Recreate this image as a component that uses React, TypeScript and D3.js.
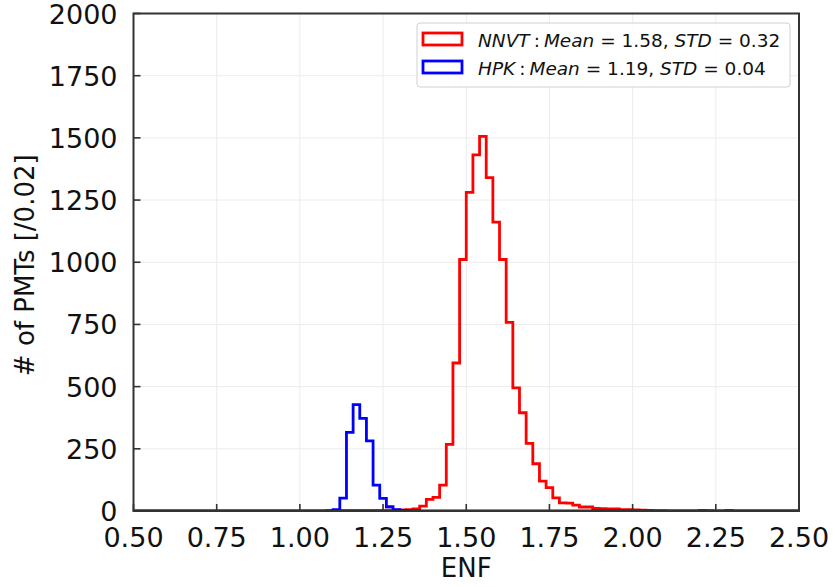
import React from "react";
import * as d3 from "d3";

// ---- Data (counts per 0.02 bin, keyed by bin lower edge) ----
const nnvtBinStarts = [1.10, 1.12, 1.14, 1.16, 1.18, 1.20, 1.22, 1.24, 1.26, 1.28, 1.30, 1.32, 1.34, 1.36, 1.38, 1.40, 1.42, 1.44, 1.46, 1.48, 1.50, 1.52, 1.54, 1.56, 1.58, 1.60, 1.62, 1.64, 1.66, 1.68, 1.70, 1.72, 1.74, 1.76, 1.78, 1.80, 1.82, 1.84, 1.86, 1.88, 1.90, 1.92, 1.94, 1.96, 1.98, 2.00, 2.02, 2.04, 2.06, 2.08, 2.20, 2.22, 2.28];
const nnvtCounts = [1, 2, 2, 2, 2, 2, 2, 2, 3, 3, 4, 5, 8, 20, 47, 55, 104, 268, 595, 1011, 1281, 1432, 1506, 1340, 1161, 1011, 758, 495, 395, 272, 190, 120, 94, 53, 33, 32, 24, 16, 16, 10, 9, 8, 8, 5, 5, 4, 3, 2, 1, 1, 2, 1, 2];

const hpkBinStarts = [1.08, 1.10, 1.12, 1.14, 1.16, 1.18, 1.20, 1.22, 1.24, 1.26, 1.28, 1.30, 1.32, 1.34];
const hpkCounts = [1, 5, 52, 316, 428, 372, 282, 104, 51, 17, 5, 2, 1, 1];

const xTicks = [0.5, 0.75, 1.0, 1.25, 1.5, 1.75, 2.0, 2.25, 2.5];
const yTicks = [0, 250, 500, 750, 1000, 1250, 1500, 1750, 2000];
const xDomain = [0.5, 2.5];
const yDomain = [0, 2000];
const binWidth = 0.02;

const W = 835;
const H = 587;
const M = { left: 133.5, right: 799, top: 13.5, bottom: 511 };

const FONT = "'DejaVu Sans', sans-serif";

function histPath(
  starts: number[],
  counts: number[],
  x: d3.ScaleLinear<number, number>,
  y: d3.ScaleLinear<number, number>
) {
  const nBins = Math.round((xDomain[1] - xDomain[0]) / binWidth);
  const vals = new Array(nBins).fill(0);
  starts.forEach((s, i) => {
    const idx = Math.round((s - xDomain[0]) / binWidth);
    if (idx >= 0 && idx < nBins) vals[idx] = counts[i];
  });
  const pts: [number, number][] = [[x(xDomain[0]), y(0)]];
  vals.forEach((v, i) => {
    const e0 = xDomain[0] + i * binWidth;
    const e1 = e0 + binWidth;
    pts.push([x(e0), y(v)]);
    pts.push([x(e1), y(v)]);
  });
  pts.push([x(xDomain[1]), y(0)]);
  return d3.line()(pts) || "";
}

export default function App() {
  const x = d3.scaleLinear().domain(xDomain).range([M.left, M.right]);
  const y = d3.scaleLinear().domain(yDomain).range([M.bottom, M.top]);

  const nnvtPath = histPath(nnvtBinStarts, nnvtCounts, x, y);
  const hpkPath = histPath(hpkBinStarts, hpkCounts, x, y);

  const fmtX = d3.format(".2f");

  return (
    <svg
      width={W}
      height={H}
      style={{ position: "absolute", left: 0, top: 0, background: "#fff" }}
      fontFamily={FONT}
    >
      <defs>
        <clipPath id="plotclip">
          <rect x={M.left} y={M.top - 2} width={M.right - M.left} height={M.bottom - M.top + 2} />
        </clipPath>
      </defs>
      <rect x={0} y={0} width={W} height={H} fill="#fff" />

      {/* grid */}
      {xTicks.map((t) => (
        <line key={"gx" + t} x1={x(t)} x2={x(t)} y1={M.top} y2={M.bottom} stroke="#ececec" strokeWidth={1} />
      ))}
      {yTicks.map((t) => (
        <line key={"gy" + t} x1={M.left} x2={M.right} y1={y(t)} y2={y(t)} stroke="#ececec" strokeWidth={1} />
      ))}

      {/* histograms */}
      <g clipPath="url(#plotclip)" fill="none" strokeWidth={2.8} strokeLinejoin="miter">
        <path d={nnvtPath} stroke="#ff0000" />
        <path d={hpkPath} stroke="#0000ff" />
      </g>

      {/* ticks (inward) */}
      {xTicks.map((t) => (
        <line key={"tx" + t} x1={x(t)} x2={x(t)} y1={M.bottom} y2={M.bottom - 7} stroke="#333" strokeWidth={1.6} />
      ))}
      {yTicks.map((t) => (
        <line key={"ty" + t} x1={M.left} x2={M.left + 7} y1={y(t)} y2={y(t)} stroke="#333" strokeWidth={1.6} />
      ))}

      {/* frame */}
      <rect
        x={M.left}
        y={M.top}
        width={M.right - M.left}
        height={M.bottom - M.top}
        fill="none"
        stroke="#333"
        strokeWidth={2}
      />

      {/* tick labels */}
      {xTicks.map((t) => (
        <text key={"lx" + t} x={x(t)} y={M.bottom + 36} textAnchor="middle" fontSize={27} fill="#111">
          {fmtX(t)}
        </text>
      ))}
      {yTicks.map((t) => (
        <text key={"ly" + t} x={M.left - 16} y={y(t) + 10} textAnchor="end" fontSize={27} fill="#111">
          {t}
        </text>
      ))}

      {/* axis labels */}
      <text x={(M.left + M.right) / 2} y={577} textAnchor="middle" fontSize={26} fill="#111">
        ENF
      </text>
      <text
        transform={`translate(34, ${(M.top + M.bottom) / 2 + 3}) rotate(-90)`}
        textAnchor="middle"
        fontSize={26}
        fill="#111"
      >
        # of PMTs [/0.02]
      </text>

      {/* legend */}
      <g>
        <rect x={417} y={23} width={373} height={64} rx={3} fill="#fff" fillOpacity={0.85} stroke="#d0d0d0" strokeWidth={1} />
        <rect x={423} y={33} width={39} height={12} fill="none" stroke="#ff0000" strokeWidth={2.8} />
        <rect x={423} y={61} width={39} height={12} fill="none" stroke="#0000ff" strokeWidth={2.8} />
        <text x={478} y={47} fontSize={18.5} fill="#111">
          <tspan fontStyle="italic">NNVT</tspan>
          <tspan dx={4}>:</tspan>
          <tspan dx={4} fontStyle="italic">Mean</tspan>
          <tspan> = 1.58, </tspan>
          <tspan fontStyle="italic">STD</tspan>
          <tspan> = 0.32</tspan>
        </text>
        <text x={478} y={75} fontSize={18.5} fill="#111">
          <tspan fontStyle="italic">HPK</tspan>
          <tspan dx={4}>:</tspan>
          <tspan dx={4} fontStyle="italic">Mean</tspan>
          <tspan> = 1.19, </tspan>
          <tspan fontStyle="italic">STD</tspan>
          <tspan> = 0.04</tspan>
        </text>
      </g>
    </svg>
  );
}
